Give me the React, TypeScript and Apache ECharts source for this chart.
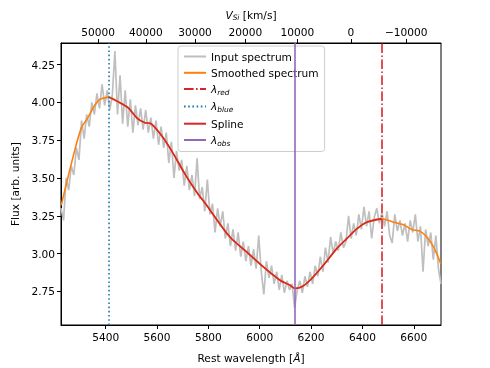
import React, { useEffect, useRef } from "react";
import * as echarts from "echarts";

const FONT = "DejaVu Sans";

// Input spectrum: regular wavelength grid (Å) and flux
const INPUT_START = 5226;
const INPUT_STEP = 10;
const INPUT_FLUX = [
  3.30, 3.22, 3.50, 3.42, 3.58, 3.52, 3.70, 3.62, 3.88, 3.76,
  3.92, 3.84, 4.00, 3.92, 4.06, 3.96, 4.12, 3.98, 4.08, 3.95,
  4.05, 4.34, 3.92, 4.18, 3.86, 4.08, 3.84, 4.02, 3.80, 3.98,
  3.85, 3.96, 3.82, 3.95, 3.80, 3.90, 3.76, 3.88, 3.72, 3.84,
  3.70, 3.80, 3.60, 3.74, 3.50, 3.68, 3.55, 3.62, 3.45, 3.58,
  3.42, 3.52, 3.38, 3.63, 3.36, 3.44, 3.28, 3.49, 3.26, 3.33,
  3.14, 3.30, 3.18, 3.28, 3.10, 3.20, 3.05, 3.16, 3.02, 3.14,
  2.98, 3.08, 2.95, 3.05, 2.92, 3.03, 2.90, 3.12, 2.88, 2.73,
  2.95, 2.84, 2.92, 2.80, 2.88, 2.76, 2.86, 2.74, 2.82, 2.76,
  2.80, 2.64, 2.76, 2.82, 2.74, 2.85, 2.78, 2.88, 2.80, 2.92,
  2.85, 2.98, 2.88, 3.04, 2.94, 3.11, 3.00, 3.08, 3.02, 3.14,
  3.04, 3.08, 3.25, 3.10, 3.20, 3.12, 3.26, 3.16, 3.31, 3.18,
  3.28, 3.10, 3.24, 3.30, 3.20, 3.27, 3.18, 3.28, 3.12, 3.07,
  3.26, 3.15, 3.22, 3.12, 3.20, 3.08, 3.22, 3.14, 3.26, 3.08,
  3.18, 2.88, 3.16, 3.05, 3.14, 2.96, 3.12, 2.90, 2.80,
];

// Smoothed spectrum
const SMOOTH_WAVE = [
  5227, 5273, 5305, 5331, 5357, 5377, 5396, 5412, 5448, 5487, 5523, 5553, 5573,
  5618, 5657, 5709, 5755, 5794, 5826, 5884, 5949, 6014, 6079, 6118, 6138, 6164,
  6196, 6248, 6300, 6339, 6378, 6417, 6475, 6520, 6560, 6592, 6625, 6651, 6677, 6705,
];
const SMOOTH_FLUX = [
  3.32, 3.64, 3.83, 3.90, 3.98, 4.02, 4.03, 4.035, 4.005, 3.965, 3.895, 3.866, 3.862,
  3.78, 3.68, 3.526, 3.406, 3.318, 3.241, 3.11, 3.011, 2.912, 2.824, 2.791, 2.77, 2.781,
  2.824, 2.923, 3.033, 3.099, 3.164, 3.208, 3.23, 3.208, 3.191, 3.16, 3.147, 3.11, 3.044, 2.934,
];

// Spline between lambda_blue and lambda_red
const SPLINE_WAVE = [
  5412, 5448, 5487, 5523, 5553, 5573, 5618, 5657, 5709, 5755, 5794, 5826, 5884,
  5949, 6014, 6079, 6118, 6138, 6164, 6196, 6248, 6300, 6339, 6378, 6417, 6476,
];
const SPLINE_FLUX = [
  4.035, 4.005, 3.965, 3.895, 3.866, 3.862, 3.78, 3.68, 3.526, 3.406, 3.318, 3.241, 3.11,
  3.011, 2.912, 2.824, 2.791, 2.77, 2.781, 2.824, 2.923, 3.033, 3.099, 3.164, 3.208, 3.23,
];

const LAMBDA_RED = 6476;
const LAMBDA_BLUE = 5412;
const LAMBDA_OBS = 6138;

const X_TICKS = [5400, 5600, 5800, 6000, 6200, 6400, 6600];
const Y_TICKS = [2.75, 3.0, 3.25, 3.5, 3.75, 4.0, 4.25];
const VEL_TICKS = [50000, 40000, 30000, 20000, 10000, 0, -10000];
const LAMBDA_SI = 6355;
const C_KMS = 299792.458;

const X_MIN = 5226;
const X_MAX = 6706;
const Y_MIN = 2.528;
const Y_MAX = 4.393;

function velToLambda(v: number) {
  const b = v / C_KMS;
  return LAMBDA_SI * Math.sqrt((1 - b) / (1 + b));
}
const VEL_LAMBDAS = VEL_TICKS.map(velToLambda);

const C_GRAY = "#bfbfbf";
const C_ORANGE = "#ff7f0e";
const C_RED = "#d62728";
const C_BLUE = "#1f77b4";
const C_PURPLE = "#9467bd";

const subRich = {
  i: { fontStyle: "italic", fontSize: 10.6, fontFamily: FONT, lineHeight: 13, verticalAlign: "middle" },
  s: { fontStyle: "italic", fontSize: 7.4, fontFamily: FONT, lineHeight: 7, verticalAlign: "bottom" },
  n: { fontSize: 10.6, fontFamily: FONT, lineHeight: 13, verticalAlign: "middle" },
};

const LEGEND_LABELS: Record<string, string> = {
  "Input spectrum": "{n|Input spectrum}",
  "Smoothed spectrum": "{n|Smoothed spectrum}",
  "λ_red": "{i|λ}{s|red}",
  "λ_blue": "{i|λ}{s|blue}",
  Spline: "{n|Spline}",
  "λ_obs": "{i|λ}{s|obs}",
};

function vline(name: string, x: number, color: string, type: any) {
  return {
    name,
    type: "line",
    data: [],
    color,
    symbol: "none",
    lineStyle: { color, width: 1.6, type },
    markLine: {
      silent: true,
      symbol: "none",
      label: { show: false },
      lineStyle: { color, width: 1.6, type },
      data: [{ xAxis: x }],
    },
  };
}

export default function App() {
  const ref = useRef<HTMLDivElement>(null);
  useEffect(() => {
    const chart = echarts.init(ref.current!, null, { renderer: "svg" });
    const inputData = INPUT_FLUX.map((f, i) => [INPUT_START + i * INPUT_STEP, f]);
    const smoothData = SMOOTH_WAVE.map((w, i) => [w, SMOOTH_FLUX[i]]);
    const splineData = SPLINE_WAVE.map((w, i) => [w, SPLINE_FLUX[i]]);
    const tickLabel = { color: "#000", fontSize: 10.6, fontFamily: FONT };
    chart.setOption({
      animation: false,
      grid: {
        left: 61,
        right: 49,
        top: 43,
        bottom: 41,
        show: true,
        borderColor: "#000",
        borderWidth: 1,
        backgroundColor: "transparent",
      },
      legend: {
        orient: "vertical",
        left: 178,
        top: 46,
        padding: [5, 6, 5, 5],
        itemWidth: 22,
        itemHeight: 10,
        itemGap: 5.3,
        itemStyle: { opacity: 0 },
        backgroundColor: "rgba(255,255,255,0.8)",
        borderColor: "#cccccc",
        borderWidth: 1,
        borderRadius: 3,
        data: ["Input spectrum", "Smoothed spectrum", "λ_red", "λ_blue", "Spline", "λ_obs"],
        formatter: (name: string) => LEGEND_LABELS[name] || name,
        textStyle: { color: "#000", fontSize: 10.6, fontFamily: FONT, rich: subRich },
      },
      xAxis: [
        {
          type: "value",
          position: "bottom",
          min: X_MIN,
          max: X_MAX,
          splitLine: { show: false },
          axisLine: { show: true, lineStyle: { color: "#000", width: 1 } },
          axisTick: { show: true, length: 4, lineStyle: { color: "#000" }, customValues: X_TICKS },
          axisLabel: { ...tickLabel, margin: 6, customValues: X_TICKS, formatter: (v: number) => String(v) },
          name: "Rest wavelength [{i|Å}]",
          nameLocation: "middle",
          nameGap: 27,
          nameTextStyle: {
            color: "#000",
            fontSize: 10.6,
            fontFamily: FONT,
            rich: { i: { fontStyle: "italic", fontSize: 10.6, fontFamily: FONT } },
          },
        },
        {
          type: "value",
          position: "top",
          min: X_MIN,
          max: X_MAX,
          splitLine: { show: false },
          axisLine: { show: true, lineStyle: { color: "#000", width: 1 } },
          axisTick: { show: true, length: 4, lineStyle: { color: "#000" }, customValues: VEL_LAMBDAS },
          axisLabel: {
            ...tickLabel,
            margin: 6,
            customValues: VEL_LAMBDAS,
            formatter: (v: number) => {
              let best = 0;
              let bd = Infinity;
              VEL_LAMBDAS.forEach((l, i) => {
                const d = Math.abs(l - v);
                if (d < bd) {
                  bd = d;
                  best = i;
                }
              });
              const vel = VEL_TICKS[best];
              return vel < 0 ? "\u2212" + String(-vel) : String(vel);
            },
          },
          name: "{i|V}{s|Si}{n| [km/s]}",
          nameLocation: "middle",
          nameGap: 19,
          nameTextStyle: { color: "#000", fontSize: 10.6, fontFamily: FONT, rich: subRich },
        },
      ],
      yAxis: {
        type: "value",
        min: Y_MIN,
        max: Y_MAX,
        splitLine: { show: false },
        axisLine: { show: true, lineStyle: { color: "#000", width: 1 } },
        axisTick: { show: true, length: 4, lineStyle: { color: "#000" }, customValues: Y_TICKS },
        axisLabel: { ...tickLabel, margin: 6, customValues: Y_TICKS, formatter: (v: number) => v.toFixed(2) },
        name: "Flux [arb. units]",
        nameLocation: "middle",
        nameGap: 34,
        nameRotate: 90,
        nameTextStyle: { color: "#000", fontSize: 10.6, fontFamily: FONT },
      },
      series: [
        {
          name: "Input spectrum",
          type: "line",
          data: inputData,
          color: C_GRAY,
          symbol: "none",
          lineStyle: { color: C_GRAY, width: 1.7 },
          z: 2,
        },
        {
          name: "Smoothed spectrum",
          type: "line",
          data: smoothData,
          color: C_ORANGE,
          symbol: "none",
          smooth: 0.3,
          lineStyle: { color: C_ORANGE, width: 1.6 },
          z: 3,
        },
        vline("λ_red", LAMBDA_RED, C_RED, [9.6, 2.4, 1.6, 2.4]),
        vline("λ_blue", LAMBDA_BLUE, C_BLUE, [1.6, 2.6]),
        {
          name: "Spline",
          type: "line",
          data: splineData,
          color: C_RED,
          symbol: "none",
          smooth: 0.3,
          lineStyle: { color: C_RED, width: 1.6 },
          z: 4,
        },
        vline("λ_obs", LAMBDA_OBS, C_PURPLE, "solid"),
      ],
    });
    return () => chart.dispose();
  }, []);
  return (
    <div
      ref={ref}
      style={{ position: "fixed", left: 0, top: 0, width: 490, height: 368 }}
    />
  );
}
